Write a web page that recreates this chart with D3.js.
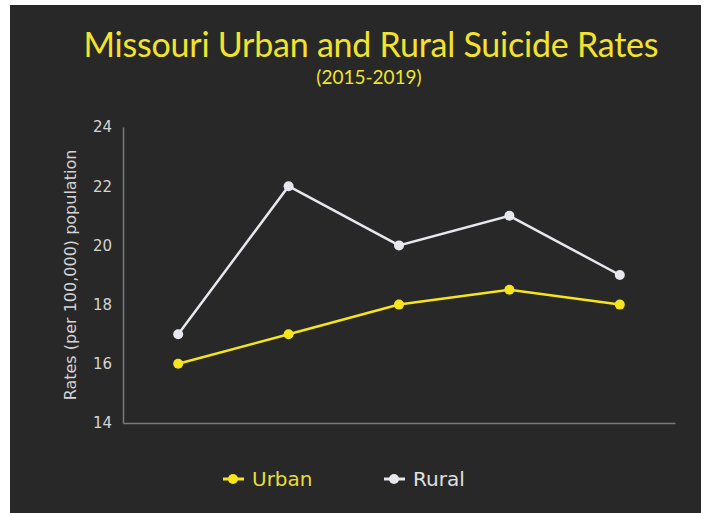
<!DOCTYPE html>
<html>
<head>
<meta charset="utf-8">
<script src="https://d3js.org/d3.v7.min.js"></script>
<style>
  body { margin: 0; background: #ffffff; }
  svg { display: block; }
  .tick text { font-family: "DejaVu Sans", sans-serif; }
</style>
</head>
<body>
<svg width="705" height="513"></svg>
<script>
  // data
  var years = ["2015", "2016", "2017", "2018", "2019"];
  var urban = [16, 17, 18, 18.5, 18];
  var rural = [17, 22, 20, 21, 19];
  var yTicks = [14, 16, 18, 20, 22, 24];

  var svg = d3.select("svg");

  // dark panel
  svg.append("rect")
    .attr("x", 10).attr("y", 5)
    .attr("width", 691).attr("height", 508)
    .attr("fill", "#282828");

  var margin = {left: 123, right: 675, top: 127, bottom: 423};

  var x = d3.scalePoint()
    .domain(years)
    .range([margin.left, margin.right])
    .padding(0.5);

  var y = d3.scaleLinear()
    .domain([14, 24])
    .range([margin.bottom, margin.top]);

  // axes
  var yAxis = d3.axisLeft(y).tickValues(yTicks).tickSize(0).tickPadding(11);
  var gy = svg.append("g")
    .attr("transform", "translate(" + margin.left + ",0)")
    .call(yAxis);
  gy.select(".domain").attr("stroke", "#7a7a7a").attr("stroke-width", 1.5);
  gy.selectAll(".tick text")
    .attr("fill", "#d4d4d4")
    .style("font-size", "15px");

  var gx = svg.append("g")
    .attr("transform", "translate(0," + margin.bottom + ")")
    .call(d3.axisBottom(x).tickSize(0).tickFormat(""));
  gx.select(".domain").attr("stroke", "#7a7a7a").attr("stroke-width", 1.5);

  // titles
  svg.append("text")
    .attr("x", 371).attr("y", 57)
    .attr("text-anchor", "middle")
    .attr("fill", "#f2e42c")
    .style("font-family", "Lato, sans-serif")
    .style("font-size", "34px")
    .attr("textLength", 575)
    .text("Missouri Urban and Rural Suicide Rates");

  svg.append("text")
    .attr("x", 369).attr("y", 84)
    .attr("text-anchor", "middle")
    .attr("fill", "#f2e42c")
    .style("font-family", "Lato, sans-serif")
    .style("font-size", "19px")
    .text("(2015-2019)");

  svg.append("text")
    .attr("transform", "translate(76,275) rotate(-90)")
    .attr("text-anchor", "middle")
    .attr("fill", "#d4d4d4")
    .style("font-family", "DejaVu Sans, sans-serif")
    .style("font-size", "16px")
    .text("Rates (per 100,000) population");

  // series
  var series = [
    {name: "Urban", values: urban, color: "#f5e41e", text: "#e8dc3a"},
    {name: "Rural", values: rural, color: "#e6e8ee", text: "#e0e0e0"}
  ];

  var line = d3.line()
    .x(function(d, i) { return x(years[i]); })
    .y(function(d) { return y(d); });

  series.forEach(function(s) {
    svg.append("path")
      .datum(s.values)
      .attr("d", line)
      .attr("fill", "none")
      .attr("stroke", s.color)
      .attr("stroke-width", 2.5);

    svg.selectAll(null)
      .data(s.values)
      .enter()
      .append("circle")
      .attr("cx", function(d, i) { return x(years[i]); })
      .attr("cy", function(d) { return y(d); })
      .attr("r", 5)
      .attr("fill", s.color);
  });

  // legend
  var legendX = [232, 393];
  series.forEach(function(s, i) {
    var g = svg.append("g").attr("transform", "translate(" + legendX[i] + ",479)");
    g.append("line")
      .attr("x1", -9).attr("x2", 12)
      .attr("stroke", s.color).attr("stroke-width", 3);
    g.append("circle").attr("r", 5).attr("cx", 1).attr("fill", s.color);
    g.append("text")
      .attr("x", 20).attr("y", 7)
      .attr("fill", s.text)
      .style("font-family", "DejaVu Sans, sans-serif")
      .style("font-size", "20px")
      .text(s.name);
  });
</script>
</body>
</html>
